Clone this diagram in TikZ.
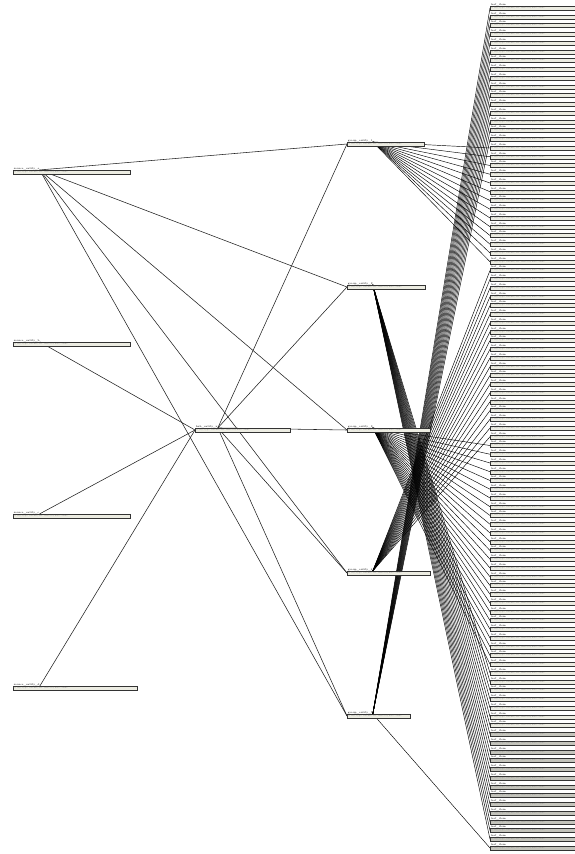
\documentclass[tikz,border=0pt]{standalone}
\usepackage{fontspec}
\usetikzlibrary{positioning,backgrounds}
\definecolor{boxfill}{HTML}{ECECE2}
\definecolor{boxdark}{HTML}{C4C4BC}
\definecolor{edgec}{HTML}{202020}
\tikzset{
  hdr/.style={inner sep=0pt, anchor=south west, font=\fontsize{2.6}{2.6}\selectfont, text=black},
  body/.style={draw=black!80, line width=0.3pt, fill=boxfill, inner sep=0.2pt, anchor=west,
    minimum height=3.8pt, font=\fontsize{1.9}{1.9}\selectfont, text=black!50, align=left},
  link/.style={line width=0.55pt, draw=edgec},
  fanlink/.style={line width=0.45pt, draw=black},
}
\newcommand{\filltxt}{id: key; type: varchar; src: table.col; note: value}
\newcommand{\gnode}[5]{% name, x, y, width, header
  \node[body, text width=#4pt] (#1) at (#2,#3) {\filltxt};
  \node[hdr] (#1h) at ([xshift=0.6pt]#1.north west) {#5};
  \coordinate (#1s) at (#1h.south east);}

\begin{document}
\begin{tikzpicture}[x=1pt,y=-1pt]
  \useasboundingbox (0,0) rectangle (575,854);
  % left column
  \gnode{pa}{13}{172}{117}{source\_entity\_a}
  \gnode{pb}{13}{344}{117}{source\_entity\_b}
  \gnode{pc}{13}{516}{117}{source\_entity\_c}
  \gnode{pd}{13}{688}{124}{source\_entity\_d}
  % hub
  \gnode{hub}{195}{430}{95}{hub\_entity\_x}
  % middle column
  \gnode{ma}{347}{144}{77}{group\_entity\_1}
  \gnode{mb}{347}{287}{78}{group\_entity\_2}
  \gnode{mc}{347}{430}{83}{group\_entity\_3}
  \gnode{md}{347}{573}{83}{group\_entity\_4}
  \gnode{me}{347}{716}{63}{group\_entity\_5}
  % right column
  \foreach \i in {0,...,96} {
    \pgfmathsetmacro\yy{8+8.75*\i}
    \ifnum\i>82
      \node[body, fill=boxdark, text width=86pt] (t\i) at (490,\yy) {\filltxt};
      \node[hdr] (t\i h) at ([xshift=0.6pt]t\i.north west) {leaf\_item};
    \else
      \gnode{t\i}{490}{\yy}{86}{leaf\_item}
    \fi
  }
  \begin{scope}[on background layer]
    \foreach \m in {ma,mb,mc,md,me} \draw[link] (pas) -- (\m.west);
    \foreach \p in {pb,pc,pd} \draw[link] (\p s) -- (hub.west);
    \foreach \m in {ma,mb,mc,md,me} \draw[link] (hubs) -- (\m.west);
    \foreach \i in {0,...,15} \draw[fanlink] (mes) -- (t\i.west);
    \foreach \i in {16,...,29} \draw[fanlink] (mas) -- (t\i.west);
    \foreach \i in {30,...,49} \draw[fanlink] (mds) -- (t\i.west);
    \foreach \i in {50,...,75} \draw[fanlink] (mcs) -- (t\i.west);
    \foreach \i in {76,...,95} \draw[fanlink] (mbs) -- (t\i.west);
    \draw[fanlink] (mes) -- (t96.west);
  \end{scope}
\end{tikzpicture}
\end{document}
